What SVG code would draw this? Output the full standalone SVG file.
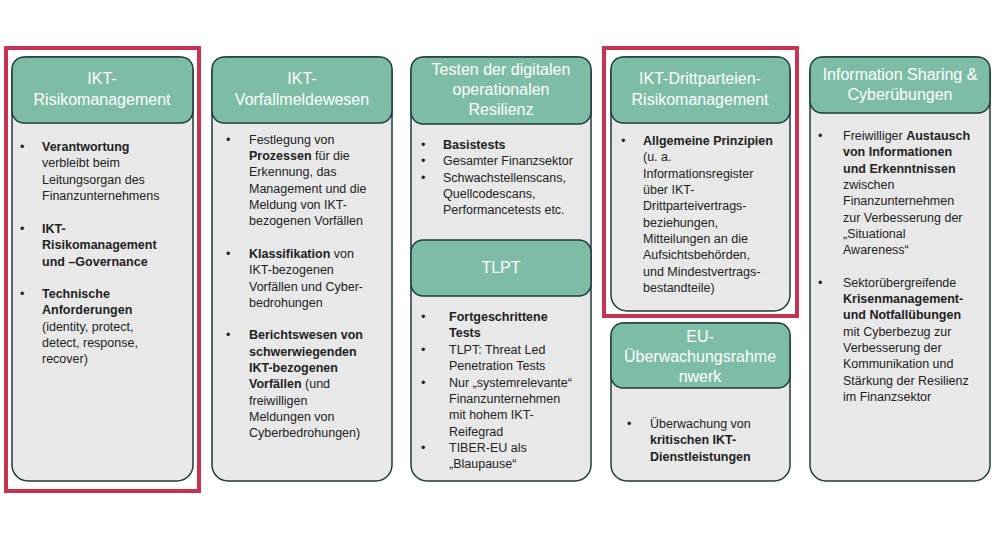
<svg xmlns="http://www.w3.org/2000/svg" width="1000" height="537" viewBox="0 0 1000 537">
<style>
.box{fill:#e8e8e8;stroke:#1e3a3e;stroke-width:1.5}
.hd{fill:#7dbda6;stroke:#1e3a3e;stroke-width:1.5}
.ht{font-family:"Liberation Sans",Arial,sans-serif;font-size:16px;fill:#fff;text-anchor:middle}
.t{font-family:"Liberation Sans",Arial,sans-serif;font-size:12.5px;fill:#222}
.b{font-weight:bold}
.red{fill:none;stroke:#c8344f;stroke-width:4}
</style>
<rect width="1000" height="537" fill="#fff"/>
<g id="col1">
<rect class="box" x="12" y="57" width="181" height="424" rx="16"/>
<rect class="hd" x="12" y="57" width="181" height="66" rx="12"/>
<text class="ht" x="102" y="84">IKT-</text><text class="ht" x="102" y="105">Risikomanagement</text>
<text class="t"><tspan x="20" y="151">•</tspan><tspan x="42" y="151" class="b">Verantwortung</tspan><tspan x="42" y="167">verbleibt beim</tspan><tspan x="42" y="184">Leitungsorgan des</tspan><tspan x="42" y="200">Finanzunternehmens</tspan>
<tspan x="20" y="233">•</tspan><tspan x="42" y="233" class="b">IKT-</tspan><tspan x="42" y="249" class="b">Risikomanagement</tspan><tspan x="42" y="266" class="b">und –Governance</tspan>
<tspan x="20" y="298">•</tspan><tspan x="42" y="298" class="b">Technische</tspan><tspan x="42" y="314" class="b">Anforderungen</tspan><tspan x="42" y="331">(identity, protect,</tspan><tspan x="42" y="347">detect, response,</tspan><tspan x="42" y="363">recover)</tspan></text>
</g>
<g id="col2">
<rect class="box" x="212" y="57" width="180" height="424" rx="16"/>
<rect class="hd" x="212" y="57" width="180" height="66" rx="12"/>
<text class="ht" x="302" y="84">IKT-</text><text class="ht" x="302" y="105">Vorfallmeldewesen</text>
<text class="t"><tspan x="226" y="144">•</tspan><tspan x="249" y="144">Festlegung von</tspan><tspan x="249" y="160" class="b">Prozessen</tspan><tspan> für die</tspan><tspan x="249" y="176">Erkennung, das</tspan><tspan x="249" y="193">Management und die</tspan><tspan x="249" y="209">Meldung von IKT-</tspan><tspan x="249" y="225">bezogenen Vorfällen</tspan>
<tspan x="226" y="258">•</tspan><tspan x="249" y="258" class="b">Klassifikation</tspan><tspan> von</tspan><tspan x="249" y="274">IKT-bezogenen</tspan><tspan x="249" y="291">Vorfällen und Cyber-</tspan><tspan x="249" y="307">bedrohungen</tspan>
<tspan x="226" y="339">•</tspan><tspan x="249" y="339" class="b">Berichtswesen von</tspan><tspan x="249" y="356" class="b">schwerwiegenden</tspan><tspan x="249" y="372" class="b">IKT-bezogenen</tspan><tspan x="249" y="388" class="b">Vorfällen</tspan><tspan> (und</tspan><tspan x="249" y="405">freiwilligen</tspan><tspan x="249" y="421">Meldungen von</tspan><tspan x="249" y="437">Cyberbedrohungen)</tspan></text>
</g>
<g id="col3">
<rect class="box" x="411" y="57" width="180" height="424" rx="16"/>
<rect class="hd" x="411" y="57" width="180" height="67" rx="12"/>
<text class="ht" x="501" y="75">Testen der digitalen</text><text class="ht" x="501" y="95">operationalen</text><text class="ht" x="501" y="115">Resilienz</text>
<text class="t"><tspan x="421" y="149">•</tspan><tspan x="443" y="149" class="b">Basistests</tspan><tspan x="421" y="165">•</tspan><tspan x="443" y="165">Gesamter Finanzsektor</tspan><tspan x="421" y="182">•</tspan><tspan x="443" y="182">Schwachstellenscans,</tspan><tspan x="443" y="198">Quellcodescans,</tspan><tspan x="443" y="214">Performancetests etc.</tspan></text>
</g>
<g id="tlpt">
<rect class="hd" x="411" y="240" width="180" height="56" rx="12"/>
<text class="ht" x="501" y="273">TLPT</text>
<text class="t"><tspan x="421" y="321">•</tspan><tspan x="449" y="321" class="b">Fortgeschrittene</tspan><tspan x="449" y="337" class="b">Tests</tspan><tspan x="421" y="354">•</tspan><tspan x="449" y="354">TLPT: Threat Led</tspan><tspan x="449" y="370">Penetration Tests</tspan><tspan x="421" y="387">•</tspan><tspan x="449" y="387">Nur „systemrelevante“</tspan><tspan x="449" y="403">Finanzunternehmen</tspan><tspan x="449" y="419">mit hohem IKT-</tspan><tspan x="449" y="436">Reifegrad</tspan><tspan x="421" y="452">•</tspan><tspan x="449" y="452">TIBER-EU als</tspan><tspan x="449" y="468">„Blaupause“</tspan></text>
</g>
<g id="col4">
<rect class="box" x="611" y="57" width="179" height="254" rx="16"/>
<rect class="hd" x="611" y="57" width="179" height="66" rx="12"/>
<text class="ht" x="700" y="84">IKT-Drittparteien-</text><text class="ht" x="700" y="105">Risikomanagement</text>
<text class="t"><tspan x="621" y="145">•</tspan><tspan x="643" y="145" class="b">Allgemeine Prinzipien</tspan><tspan x="643" y="161">(u. a.</tspan><tspan x="643" y="178">Informationsregister</tspan><tspan x="643" y="194">über IKT-</tspan><tspan x="643" y="210">Drittparteivertrags-</tspan><tspan x="643" y="227">beziehungen,</tspan><tspan x="643" y="243">Mitteilungen an die</tspan><tspan x="643" y="259">Aufsichtsbehörden,</tspan><tspan x="643" y="276">und Mindestvertrags-</tspan><tspan x="643" y="292">bestandteile)</tspan></text>
</g>
<g id="eu">
<rect class="box" x="611" y="323" width="179" height="158" rx="16"/>
<rect class="hd" x="611" y="323" width="179" height="65" rx="12"/>
<text class="ht" x="700" y="342">EU-</text><text class="ht" x="700" y="362">Überwachungsrahme</text><text class="ht" x="700" y="382">nwerk</text>
<text class="t"><tspan x="627" y="428">•</tspan><tspan x="650" y="428">Überwachung von</tspan><tspan x="650" y="444" class="b">kritischen IKT-</tspan><tspan x="650" y="461" class="b">Dienstleistungen</tspan></text>
</g>
<g id="col5">
<rect class="box" x="810" y="57" width="180" height="424" rx="16"/>
<rect class="hd" x="810" y="57" width="180" height="56" rx="12"/>
<text class="ht" x="900" y="80">Information Sharing &amp;</text><text class="ht" x="900" y="100">Cyberübungen</text>
<text class="t"><tspan x="818" y="140">•</tspan><tspan x="843" y="140">Freiwilliger </tspan><tspan class="b">Austausch</tspan><tspan x="843" y="156" class="b">von Informationen</tspan><tspan x="843" y="173" class="b">und Erkenntnissen</tspan><tspan x="843" y="189">zwischen</tspan><tspan x="843" y="205">Finanzunternehmen</tspan><tspan x="843" y="222">zur Verbesserung der</tspan><tspan x="843" y="238">„Situational</tspan><tspan x="843" y="254">Awareness“</tspan>
<tspan x="818" y="287">•</tspan><tspan x="843" y="287">Sektorübergreifende</tspan><tspan x="843" y="303" class="b">Krisenmanagement-</tspan><tspan x="843" y="319" class="b">und Notfallübungen</tspan><tspan x="843" y="336">mit Cyberbezug zur</tspan><tspan x="843" y="352">Verbesserung der</tspan><tspan x="843" y="368">Kommunikation und</tspan><tspan x="843" y="385">Stärkung der Resilienz</tspan><tspan x="843" y="401">im Finanzsektor</tspan></text>
</g>
<g id="connectors"></g>
<rect class="red" x="6" y="48" width="193" height="443"/>
<rect class="red" x="604" y="48" width="193" height="268"/>
</svg>
